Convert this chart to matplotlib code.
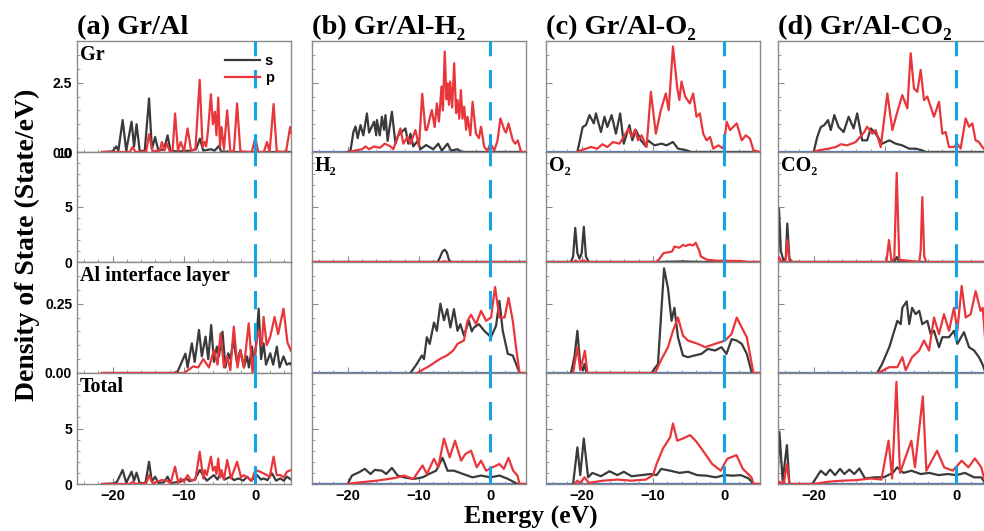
import matplotlib.pyplot as plt
from matplotlib.ticker import MultipleLocator

# Projected DOS as (energy eV, states/eV) vertices; s in black, p in red.
# ---- (a) Gr/Al ----
gr_a_s = [(-21.5, 0), (-20.0, 0.02), (-19.5, 0.2), (-19.2, 0.05), (-18.6, 1.15), (-18.1, 0.05),
          (-17.35, 1.09), (-17.0, 0.2), (-16.65, 1.0), (-16.2, 0.02), (-15.5, 0.05), (-14.9, 1.93),
          (-14.5, 0.1), (-14.05, 0.54), (-13.6, 0.05), (-12.8, 0.1), (-12.3, 0.6), (-11.9, 0.05),
          (-11.0, 0.02), (-9.0, 0.05), (-8.3, 0.1), (-7.77, 0.48), (-7.3, 0.05), (-6.2, 0.1),
          (-5.7, 0.05), (-5.1, 0.22), (-4.8, 0.02), (-3.0, 0), (5.0, 0)]
gr_a_p = [(-21.5, 0), (-17.6, 0), (-17.2, 0.18), (-16.8, 0), (-15.3, 0.02), (-14.9, 0.64),
          (-14.4, 0.02), (-13.4, 0.05), (-13.1, 0.36), (-12.75, 0.05), (-12.4, 0.3), (-12.0, 0.02),
          (-11.6, 0.05), (-11.25, 1.39), (-10.85, 0.05), (-10.45, 0.36), (-10.0, 0.02), (-9.5, 0.85),
          (-9.0, 0.05), (-8.4, 0.1), (-7.8, 2.6), (-7.4, 0.2), (-7.1, 0.36), (-6.9, 0.2), (-6.65, 0.72),
          (-6.23, 2.08), (-5.95, 1.0), (-5.67, 1.45), (-5.45, 0.6), (-5.2, 1.96), (-4.95, 0.2),
          (-4.74, 0.9), (-4.4, 0.1), (-3.95, 1.5), (-3.5, 0), (-3.0, 0.05), (-2.56, 1.75), (-2.1, 0.02),
          (-0.5, 0), (0.0, 0.52), (0.4, 0), (1.2, 0), (1.63, 0.36), (2.0, 0), (2.56, 1.73), (3.0, 0.02),
          (4.3, 0), (4.88, 0.9), (5.0, 0.7)]
al_a_s = [(-21.5, 0), (-11.5, 0), (-10.9, 0.005), (-9.8, 0.07), (-9.5, 0.02), (-8.9, 0.107),
          (-8.5, 0.04), (-7.9, 0.155), (-7.5, 0.06), (-6.98, 0.131), (-6.6, 0.05), (-6.19, 0.173),
          (-5.8, 0.04), (-5.4, 0.095), (-5.1, 0.06), (-4.6, 0.149), (-4.2, 0.02), (-3.8, 0.071),
          (-3.5, 0.05), (-3.07, 0.119), (-2.6, 0.04), (-2.1, 0.083), (-1.6, 0.02), (-1.16, 0.06),
          (-0.9, 0.02), (-0.47, 0.095), (-0.15, 0.02), (0.47, 0.232), (0.8, 0.05), (1.16, 0.107),
          (1.5, 0.03), (2.09, 0.071), (2.5, 0.03), (3.02, 0.095), (3.4, 0.02), (3.95, 0.06),
          (4.4, 0.03), (4.88, 0.036), (5.0, 0.03)]
al_a_p = [(-21.5, 0), (-10.0, 0), (-8.7, 0.024), (-8.0, 0.02), (-7.3, 0.05), (-6.5, 0.02),
          (-5.8, 0.083), (-5.3, 0.03), (-4.88, 0.143), (-4.4, 0.02), (-3.95, 0.06), (-3.5, 0.01),
          (-3.02, 0.167), (-2.5, 0.02), (-2.09, 0.083), (-1.6, 0.02), (-0.93, 0.179), (-0.4, 0),
          (-0.2, 0.05), (0.47, 0.155), (0.9, 0.1), (1.16, 0.202), (1.6, 0.1), (2.09, 0.131),
          (2.7, 0.202), (3.2, 0.14), (3.95, 0.232), (4.5, 0.11), (5.0, 0.08)]
tot_a_s = [(-21.5, 0), (-19.8, 0.05), (-19.4, 0.2), (-18.6, 1.26), (-18.1, 0.1), (-17.35, 1.11),
           (-17.0, 0.3), (-16.65, 1.02), (-16.2, 0.05), (-15.4, 0.1), (-14.9, 2.0), (-14.5, 0.2),
           (-14.05, 0.66), (-13.6, 0.1), (-12.8, 0.15), (-12.3, 0.66), (-11.9, 0.1), (-11.0, 0.15),
           (-10.5, 0.2), (-9.7, 0.5), (-9.2, 0.25), (-8.5, 0.4), (-7.77, 1.26), (-7.2, 0.66),
           (-6.8, 0.3), (-5.81, 0.8), (-5.3, 0.4), (-4.88, 0.96), (-4.3, 0.4), (-3.49, 0.66),
           (-3.0, 0.35), (-2.33, 0.5), (-1.7, 0.3), (-1.16, 0.66), (-0.6, 0.3), (0.23, 0.8),
           (0.8, 0.4), (1.16, 0.5), (1.7, 0.35), (2.33, 0.96), (2.9, 0.3), (3.49, 0.5), (4.0, 0.3),
           (4.42, 0.66), (5.0, 0.4)]
tot_a_p = [(-21.5, 0), (-17.6, 0), (-17.2, 0.2), (-16.8, 0.02), (-15.3, 0.05), (-14.9, 0.8),
           (-14.4, 0.05), (-13.1, 0.36), (-12.4, 0.3), (-11.9, 0.05), (-11.25, 1.56), (-10.8, 0.1),
           (-10.45, 0.5), (-10.0, 0.2), (-9.5, 0.8), (-9.0, 0.3), (-8.4, 0.4), (-7.8, 2.9), (-7.3, 0.5),
           (-7.1, 1.26), (-6.8, 0.8), (-6.23, 2.46), (-5.95, 1.2), (-5.67, 1.56), (-5.45, 0.9),
           (-5.2, 2.3), (-4.95, 0.6), (-4.74, 1.26), (-4.4, 0.4), (-3.95, 2.16), (-3.4, 0.5),
           (-2.56, 2.0), (-2.0, 0.6), (-1.63, 0.8), (-0.93, 0.5), (-0.5, 0.3), (0.0, 1.26), (0.7, 1.1),
           (1.63, 0.8), (2.0, 0.6), (2.56, 2.46), (3.0, 0.8), (3.49, 0.8), (4.0, 0.6), (4.42, 1.1),
           (5.0, 1.26)]

# ---- (b) Gr/Al-H2 ----
gr_b_s = [(-20.0, 0), (-19.6, 0.05), (-19.2, 0.72), (-18.9, 0.92), (-18.6, 0.5), (-18.2, 0.97),
          (-17.8, 0.6), (-17.3, 1.39), (-17.0, 0.7), (-16.3, 1.09), (-16.0, 0.6), (-15.9, 1.15),
          (-15.5, 0.6), (-15.2, 1.27), (-14.9, 0.8), (-14.7, 1.33), (-14.4, 0.4), (-13.8, 1.45),
          (-13.3, 0.3), (-12.9, 0.6), (-11.9, 0.85), (-11.5, 0.3), (-11.2, 0.66), (-10.8, 0.2),
          (-10.2, 0.4), (-9.8, 0.1), (-9.0, 0.25), (-8.0, 0.1), (-7.3, 0.3), (-6.8, 0.05),
          (-6.0, 0.3), (-5.5, 0.05), (-4.6, 0.1), (-4.0, 0), (5.0, 0)]
gr_b_p = [(-19.8, 0), (-19.0, 0.05), (-18.0, 0.1), (-17.5, 0.2), (-17.0, 0.1), (-16.3, 0.2),
          (-15.5, 0.15), (-14.8, 0.3), (-14.0, 0.2), (-13.6, 0.1), (-12.6, 0.85), (-12.2, 0.3),
          (-11.6, 0.55), (-11.2, 0.3), (-10.5, 0.79), (-10.0, 0.2), (-9.55, 2.1), (-9.1, 0.8),
          (-8.9, 0.79), (-8.2, 1.51), (-7.8, 0.9), (-7.5, 1.75), (-7.2, 1.1), (-6.85, 2.36),
          (-6.65, 1.5), (-6.39, 3.62), (-6.15, 1.9), (-6.0, 2.47), (-5.8, 1.7), (-5.63, 2.54),
          (-5.35, 1.6), (-5.07, 3.2), (-4.8, 1.4), (-4.6, 1.87), (-4.35, 1.2), (-4.13, 2.23),
          (-3.9, 1.2), (-3.66, 1.63), (-3.4, 0.8), (-3.19, 1.27), (-2.8, 0.6), (-2.49, 1.81),
          (-2.02, 0.66), (-1.6, 0.5), (-1.31, 0.91), (-0.85, 0.18), (-0.4, 0.05), (0.0, 0.3),
          (0.56, 0.06), (1.0, 0.4), (1.41, 1.21), (1.97, 0.79), (2.2, 0.7), (2.54, 1.03),
          (3.15, 0.42), (3.5, 0.3), (3.85, 0.42), (4.32, 0), (5.0, 0)]
ads_b_s = [(-25.0, 0), (-7.4, 0), (-7.1, 0.36), (-6.7, 0.97), (-6.4, 1.12), (-6.1, 0.88),
           (-5.8, 0.2), (-5.5, 0), (5.0, 0)]
ads_b_p = [(-25.0, 0), (-7.0, 0), (-6.4, 0.06), (-5.8, 0), (5.0, 0)]
al_b_s = [(-11.2, 0), (-10.3, 0.033), (-9.6, 0.063), (-9.3, 0.05), (-8.9, 0.129), (-8.5, 0.105),
          (-7.9, 0.182), (-7.5, 0.152), (-7.0, 0.25), (-6.5, 0.19), (-6.05, 0.23), (-5.6, 0.164),
          (-5.1, 0.23), (-4.6, 0.152), (-4.2, 0.176), (-3.7, 0.135), (-3.0, 0.188), (-2.6, 0.15),
          (-2.3, 0.164), (-1.6, 0.176), (-0.85, 0.152), (0.1, 0.129), (0.8, 0.17), (1.27, 0.26),
          (1.74, 0.152), (2.45, 0.069), (3.15, 0.063), (3.6, 0.033), (4.1, 0), (5.0, 0)]
al_b_p = [(-10.3, 0), (-8.5, 0.026), (-7.1, 0.05), (-6.1, 0.063), (-5.2, 0.081), (-4.6, 0.105),
          (-3.7, 0.117), (-3.2, 0.188), (-2.7, 0.21), (-2.0, 0.176), (-1.3, 0.224), (-0.6, 0.188),
          (0.1, 0.2), (0.66, 0.31), (1.27, 0.2), (2.0, 0.2), (2.55, 0.271), (3.15, 0.188),
          (3.6, 0.093), (4.1, 0), (5.0, 0)]
tot_b_s = [(-20.0, 0), (-19.4, 0.76), (-18.4, 1.06), (-17.6, 1.36), (-16.8, 0.9), (-16.2, 1.27),
           (-15.2, 1.2), (-14.6, 0.9), (-13.8, 1.45), (-13.0, 0.76), (-12.1, 0.6), (-10.8, 0.45),
           (-9.5, 0.6), (-8.6, 0.9), (-7.6, 1.2), (-6.7, 2.36), (-6.0, 1.2), (-5.1, 1.2),
           (-3.8, 0.9), (-2.5, 0.6), (-1.3, 0.76), (0.0, 0.6), (1.3, 0.76), (2.5, 0.45),
           (3.8, 0), (5.0, 0)]
tot_b_p = [(-20.0, 0), (-19.0, 0.1), (-15.9, 0.3), (-13.3, 0.55), (-12.1, 0.76), (-10.8, 0.45),
           (-9.5, 1.67), (-8.9, 0.9), (-7.9, 2.27), (-7.3, 1.5), (-6.5, 4.1), (-5.7, 2.4),
           (-4.95, 3.9), (-4.1, 2.1), (-3.5, 2.7), (-2.7, 3.0), (-1.9, 1.5), (-1.3, 2.1),
           (-0.6, 1.2), (0.3, 1.5), (1.27, 1.8), (1.9, 1.36), (2.54, 2.36), (3.2, 1.2),
           (3.8, 0.76), (4.1, 0), (5.0, 0)]

# ---- (c) Gr/Al-O2 ----
gr_c_s = [(-20.6, 0), (-19.86, 0.9), (-19.4, 0.97), (-18.9, 1.33), (-18.3, 1.03), (-18.0, 1.39),
          (-17.3, 0.72), (-16.8, 1.27), (-16.4, 0.9), (-15.8, 1.33), (-15.2, 0.66), (-14.6, 1.39),
          (-14.1, 0.3), (-13.3, 0.97), (-12.9, 0.42), (-12.4, 0.79), (-11.7, 0.42), (-11.0, 0.2),
          (-10.7, 0.42), (-9.8, 0.24), (-8.8, 0.3), (-8.1, 0.24), (-7.2, 0.36), (-6.5, 0.12),
          (-5.6, 0.08), (-4.6, 0), (5.0, 0)]
gr_c_p = [(-20.6, 0), (-20.1, 0.06), (-18.7, 0.18), (-17.8, 0.12), (-17.1, 0.28), (-16.4, 0.18),
          (-15.6, 0.36), (-14.7, 0.3), (-13.4, 0.85), (-13.0, 0.54), (-12.5, 0.81), (-12.1, 0.42),
          (-11.6, 0.6), (-10.9, 0.18), (-10.3, 2.17), (-9.6, 0.66), (-8.9, 1.51), (-8.2, 2.11),
          (-7.8, 1.51), (-7.2, 3.8), (-6.6, 2.3), (-6.3, 1.87), (-6.0, 2.54), (-5.5, 2.0),
          (-4.84, 1.75), (-4.37, 2.11), (-3.9, 1.27), (-3.43, 1.39), (-2.96, 0.66), (-2.49, 0.42),
          (-2.0, 0.54), (-1.55, 0.12), (-0.85, 0.24), (-0.14, 0.12), (0.33, 1.09), (0.8, 0.79),
          (1.74, 1.03), (2.44, 0.42), (3.0, 0.6), (3.6, 0.48), (4.08, 0.06), (5.0, 0)]
ads_c_s = [(-25.0, 0), (-21.5, 0), (-21.2, 0.5), (-20.9, 3.1), (-20.6, 0.8), (-20.3, 0.3),
           (-20.0, 0.8), (-19.7, 3.2), (-19.4, 0.5), (-19.0, 0), (-9.0, 0), (-6.0, 0.05),
           (-3.0, 0), (5.0, 0)]
ads_c_p = [(-25.0, 0), (-21.0, 0), (-20.9, 0.15), (-20.5, 0), (-19.7, 0.15), (-19.3, 0),
           (-9.6, 0), (-9.2, 0.2), (-8.5, 0.82), (-7.7, 0.9), (-7.3, 0.97), (-7.0, 1.4),
           (-6.3, 1.3), (-5.8, 1.55), (-5.4, 1.45), (-4.9, 1.6), (-4.4, 1.5), (-4.0, 1.75),
           (-3.5, 1.0), (-3.3, 0.5), (-2.4, 0.2), (-1.0, 0.12), (1.0, 0.1), (2.5, 0.08),
           (3.3, 0), (5.0, 0)]
al_c_s = [(-21.5, 0), (-21.0, 0.06), (-20.6, 0.152), (-20.2, 0.03), (-19.8, 0.01), (-19.6, 0.033),
          (-19.3, 0), (-10.2, 0), (-9.3, 0.033), (-8.8, 0.235), (-8.45, 0.377), (-7.9, 0.306),
          (-7.4, 0.188), (-7.0, 0.235), (-6.5, 0.129), (-5.8, 0.063), (-5.1, 0.057), (-4.2, 0.063),
          (-3.2, 0.069), (-2.3, 0.087), (-1.3, 0.081), (-0.4, 0.093), (0.3, 0.069), (1.03, 0.122),
          (1.74, 0.117), (2.44, 0.105), (3.15, 0.069), (3.85, 0), (5.0, 0)]
al_c_p = [(-21.2, 0), (-20.6, 0.093), (-20.2, 0.01), (-19.55, 0.08), (-19.2, 0), (-9.7, 0),
          (-8.9, 0.045), (-7.9, 0.093), (-7.2, 0.152), (-6.5, 0.2), (-5.8, 0.135), (-5.1, 0.117),
          (-3.7, 0.105), (-2.7, 0.093), (-1.3, 0.105), (0.1, 0.117), (1.0, 0.14), (1.74, 0.2),
          (2.44, 0.164), (3.15, 0.129), (4.08, 0), (5.0, 0)]
tot_c_s = [(-21.2, 0), (-20.6, 3.3), (-20.2, 0.8), (-19.7, 4.1), (-19.1, 0.6), (-18.5, 1.0),
           (-17.3, 0.7), (-16.1, 1.15), (-15.0, 0.8), (-14.1, 1.1), (-13.0, 0.7), (-11.6, 0.8),
           (-10.3, 0.9), (-9.5, 0.8), (-8.85, 1.36), (-7.6, 1.2), (-6.3, 1.0), (-5.1, 1.1),
           (-3.8, 0.8), (-2.5, 0.75), (-1.2, 0.6), (0.0, 0.8), (1.2, 0.75), (2.3, 0.8),
           (3.4, 0.5), (4.1, 0), (5.0, 0)]
tot_c_p = [(-21.0, 0), (-20.6, 0.3), (-20.2, 0.1), (-19.6, 0.6), (-19.0, 0.1), (-17.0, 0.3),
           (-15.0, 0.4), (-13.0, 0.3), (-11.0, 0.4), (-10.0, 0.8), (-9.5, 1.8), (-8.6, 3.2),
           (-7.6, 4.2), (-7.2, 5.45), (-6.6, 3.9), (-5.8, 4.1), (-4.8, 4.4), (-3.9, 3.8),
           (-3.0, 3.0), (-1.7, 1.8), (-0.5, 1.2), (0.4, 2.27), (1.7, 2.6), (2.6, 1.36),
           (3.8, 0.6), (4.1, 0), (5.0, 0)]

# ---- (d) Gr/Al-CO2 ----
gr_d_s = [(-20.0, 0), (-19.5, 0.54), (-19.0, 0.9), (-18.5, 0.97), (-18.0, 1.15), (-17.6, 0.79),
          (-17.1, 1.33), (-16.5, 0.9), (-15.8, 0.72), (-15.1, 1.27), (-14.4, 0.85), (-13.9, 1.39),
          (-13.2, 0.42), (-12.5, 0.42), (-12.0, 0.85), (-11.3, 0.66), (-10.4, 0.3), (-9.4, 0.42),
          (-8.5, 0.3), (-7.6, 0.24), (-6.6, 0.12), (-5.7, 0.12), (-4.8, 0.06), (-4.3, 0), (5.0, 0)]
gr_d_p = [(-20.0, 0), (-19.3, 0.06), (-17.9, 0.12), (-16.9, 0.18), (-16.2, 0.28), (-15.3, 0.24),
          (-14.1, 0.36), (-12.9, 0.72), (-12.5, 0.91), (-11.8, 0.66), (-11.3, 0.79), (-10.6, 0.18),
          (-9.67, 2.11), (-8.97, 0.79), (-8.27, 1.45), (-7.57, 2.05), (-6.87, 1.57), (-6.4, 3.56),
          (-5.94, 2.29), (-5.47, 2.17), (-5.0, 2.96), (-4.53, 1.87), (-4.07, 2.0), (-3.6, 1.63),
          (-3.13, 1.27), (-2.43, 1.81), (-1.96, 0.66), (-1.5, 0.72), (-1.03, 0.18), (-0.33, 0.18),
          (0.14, 0.3), (0.6, 0.12), (1.31, 1.21), (1.78, 0.91), (2.24, 1.03), (2.7, 0.42),
          (3.17, 0.36), (3.64, 0.18), (4.3, 0), (5.0, 0)]
ads_d_s = [(-25.0, 0.5), (-24.86, 4.85), (-24.6, 1.0), (-24.2, 0.05), (-23.9, 0.4), (-23.7, 3.5),
           (-23.4, 0.3), (-23.0, 0), (-8.7, 0), (-8.36, 0.45), (-8.0, 0), (5.0, 0)]
ads_d_p = [(-25.0, 0.2), (-24.86, 0.45), (-24.6, 0.1), (-24.0, 0), (-23.9, 0.3), (-23.7, 2.0),
           (-23.4, 0.1), (-23.0, 0), (-9.8, 0), (-9.44, 2.0), (-9.1, 0.1), (-8.7, 0.3),
           (-8.36, 8.1), (-8.0, 0.2), (-5.2, 0), (-5.0, 1.0), (-4.77, 5.9), (-4.5, 0.5),
           (-4.2, 0), (5.0, 0)]
al_d_s = [(-11.1, 0), (-10.4, 0.033), (-9.4, 0.093), (-8.97, 0.129), (-8.27, 0.188), (-7.8, 0.176),
          (-7.57, 0.235), (-6.96, 0.258), (-6.6, 0.176), (-6.2, 0.235), (-5.7, 0.212), (-5.2, 0.224),
          (-4.77, 0.176), (-4.07, 0.188), (-3.6, 0.14), (-3.13, 0.152), (-2.43, 0.093),
          (-1.96, 0.129), (-1.03, 0.129), (-0.33, 0.152), (0.14, 0.105), (1.07, 0.147),
          (1.78, 0.093), (2.5, 0.081), (3.17, 0.057), (3.64, 0.033), (4.1, 0), (5.0, 0)]
al_d_p = [(-11.0, 0), (-10.7, 0.004), (-9.4, 0.021), (-8.27, 0.021), (-7.57, 0.057), (-7.1, 0.01),
          (-6.2, 0.057), (-5.2, 0.081), (-4.53, 0.117), (-3.83, 0.081), (-3.13, 0.2), (-2.43, 0.14),
          (-1.73, 0.212), (-1.03, 0.152), (-0.33, 0.235), (0.14, 0.152), (0.75, 0.314), (1.31, 0.2),
          (2.01, 0.212), (2.71, 0.295), (3.4, 0.224), (3.7, 0.235), (4.1, 0.1), (5.0, 0)]
tot_d_s = [(-25.0, 1.5), (-24.8, 4.7), (-24.35, 0.3), (-23.75, 3.5), (-23.4, 0), (-20.2, 0),
           (-19.6, 0.6), (-19.0, 1.2), (-18.3, 0.8), (-17.7, 1.3), (-17.0, 0.8), (-16.3, 1.36),
           (-15.7, 0.9), (-15.0, 1.3), (-14.3, 0.9), (-13.6, 1.4), (-12.8, 0.5), (-11.5, 0.6),
           (-10.2, 0.6), (-8.9, 1.0), (-8.3, 1.5), (-7.4, 1.0), (-6.3, 1.2), (-5.0, 0.9),
           (-3.8, 1.0), (-2.5, 0.8), (-1.2, 0.9), (0.0, 0.8), (1.2, 1.0), (2.5, 0.6), (3.5, 0.6),
           (4.1, 0), (5.0, 0)]
tot_d_p = [(-25.0, 0), (-24.8, 0.2), (-24.2, 0), (-23.75, 1.8), (-23.4, 0), (-20.0, 0),
           (-18.0, 0.2), (-16.0, 0.3), (-14.0, 0.35), (-12.0, 0.5), (-10.5, 0.4), (-9.5, 3.9),
           (-9.0, 0.5), (-8.4, 9.2), (-7.9, 1.0), (-6.3, 3.9), (-5.8, 1.5), (-4.7, 7.9), (-4.2, 1.2),
           (-2.7, 3.0), (-1.7, 1.5), (-0.5, 1.2), (0.75, 2.1), (1.7, 1.5), (2.6, 2.3), (3.5, 1.5),
           (4.1, 0), (5.0, 0)]

titles = ["(a) Gr/Al", "(b) Gr/Al-H\u2082", "(c) Gr/Al-O\u2082", "(d) Gr/Al-CO\u2082"]
ads_labels = ["", "H\u2082", "O\u2082", "CO\u2082"]
row_labels = ["Gr", "", "Al interface layer", "Total"]

panels = [
    [(gr_a_s, gr_a_p), None, (al_a_s, al_a_p), (tot_a_s, tot_a_p)],
    [(gr_b_s, gr_b_p), (ads_b_s, ads_b_p), (al_b_s, al_b_p), (tot_b_s, tot_b_p)],
    [(gr_c_s, gr_c_p), (ads_c_s, ads_c_p), (al_c_s, al_c_p), (tot_c_s, tot_c_p)],
    [(gr_d_s, gr_d_p), (ads_d_s, ads_d_p), (al_d_s, al_d_p), (tot_d_s, tot_d_p)],
]

ylims = [(0, 4), (0, 10), (0, 0.4), (0, 10)]
yticks = [[0, 2.5], [0, 5, 10], [0, 0.25], [0, 5]]
ytick_fmt = ["{:.1f}", "{:.0f}", "{:.2f}", "{:.0f}"]
yminor = [0.5, 1, 0.05, 1]

SERIF = ["Liberation Serif", "DejaVu Serif"]
SANS = ["Liberation Sans", "DejaVu Sans"]
S_COLOR = "#3a3a3a"
P_COLOR = "#e8363b"
FERMI = "#12a4e6"
BASE = "#4470c0"
FRAME = "#8a8a8a"

W, H = 984, 531
fig = plt.figure(figsize=(W / 100, H / 100), dpi=100)

col_left = [77, 312, 546, 778]
col_width = 214
row_edges = [41, 152, 262, 373, 484]

for c in range(4):
    for r in range(4):
        top, bot = row_edges[r], row_edges[r + 1]
        ax = fig.add_axes([col_left[c] / W, 1 - bot / H, col_width / W, (bot - top) / H])
        ax.set_xlim(-25, 5)
        ax.set_ylim(*ylims[r])

        if c > 0:
            ax.axhline(0, color=BASE, lw=1.6, zorder=1)
        data = panels[c][r]
        if data is not None:
            s_pts, p_pts = data
            ax.plot(*zip(*s_pts), color=S_COLOR, lw=1.6, label="s", zorder=2)
            ax.plot(*zip(*p_pts), color=P_COLOR, lw=1.6, label="p", zorder=3)
        ax.axvline(0, color=FERMI, lw=2.2, dashes=(6, 4.5), zorder=4)

        ax.set_yticks(yticks[r])
        ax.yaxis.set_minor_locator(MultipleLocator(yminor[r]))
        ax.set_xticks([-20, -10, 0])
        ax.xaxis.set_minor_locator(MultipleLocator(2))
        ax.tick_params(which="both", direction="in", color=FRAME, top=False, right=False)
        ax.tick_params(which="major", length=4, width=0.8)
        ax.tick_params(which="minor", length=2, width=0.6)
        for sp in ax.spines.values():
            sp.set_color(FRAME)
            sp.set_linewidth(1.0)

        if c == 0:
            ax.set_yticklabels([ytick_fmt[r].format(v) for v in yticks[r]],
                               family=SANS, fontweight="bold", fontsize=10)
        else:
            ax.set_yticklabels([])
        if r == 3:
            ax.set_xticklabels(["\u221220", "\u221210", "0"],
                               family=SANS, fontweight="bold", fontsize=10.5)
        else:
            ax.set_xticklabels([])

        # row names in the first column, adsorbate names in the others
        if c == 0:
            label = row_labels[r]
        else:
            label = ads_labels[c] if r == 1 else ""
        if label:
            ax.text(0.012, 0.96, label, transform=ax.transAxes, ha="left", va="top",
                    family=SERIF, fontweight="bold", fontsize=14.5)

        if r == 0:
            ax.text(0.0, 1.06, titles[c], transform=ax.transAxes, ha="left", va="baseline",
                    family=SERIF, fontweight="bold", fontsize=20.5)
            if c == 0:
                ax.legend(loc="upper right", bbox_to_anchor=(0.98, 1.0), frameon=False,
                          handlelength=2.4, handletextpad=0.3, labelspacing=0.2,
                          prop={"family": SANS, "size": 10.5, "weight": "bold"})

fig.text(27 / W, 1 - 245 / H, "Density of State (State/eV)", rotation=90, ha="center",
         va="center", family=SERIF, fontweight="bold", fontsize=20)
fig.text(531 / W, 1 - 517 / H, "Energy (eV)", ha="center", va="center",
         family=SERIF, fontweight="bold", fontsize=18.5)

fig.savefig("out.png", dpi=100)
